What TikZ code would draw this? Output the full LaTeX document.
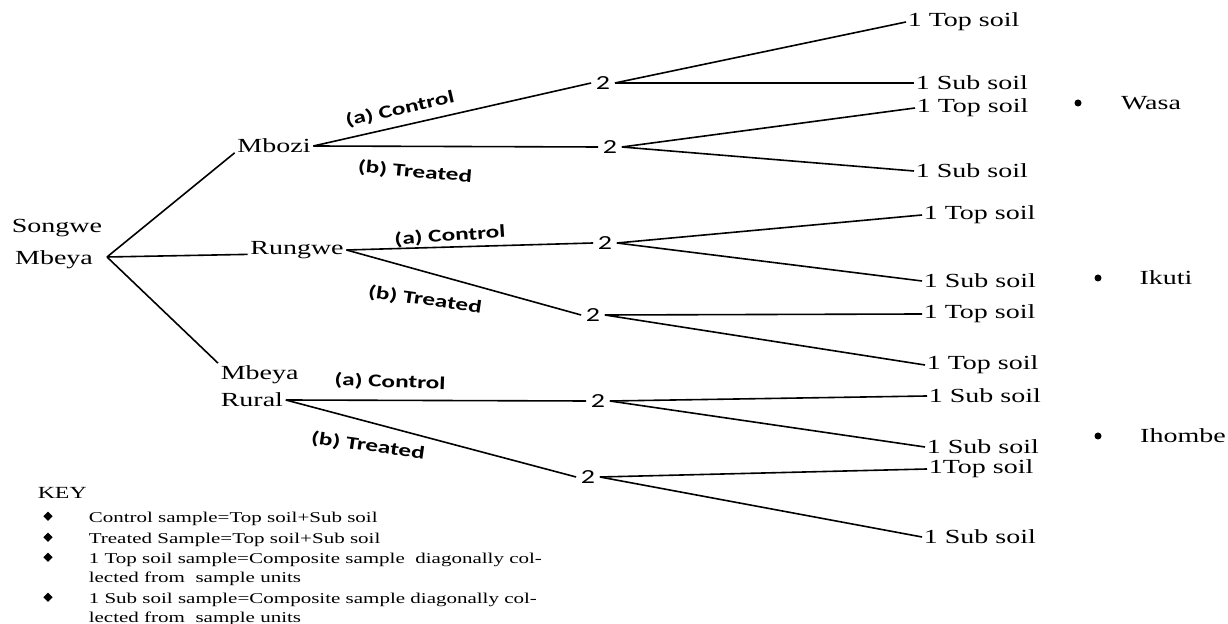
\documentclass[tikz,border=0pt]{standalone}
\usepackage{fontspec}
\setmainfont{Liberation Serif}[FakeStretch=1.4]
\newfontfamily\calibrifont{Carlito}[FakeStretch=1.4]
\usepackage{tikz}
\usetikzlibrary{shapes.geometric}

\begin{document}
\begin{tikzpicture}[x=0.5pt, y=-0.5pt, line width=0.8pt,
  place/.style={inner sep=1pt, font=\fontsize{10}{12}\selectfont},
  leaf/.style={place, anchor=west, inner sep=0.5pt},
  num/.style={inner sep=2pt, font=\calibrifont\fontsize{10}{12}\selectfont},
  arm/.style={inner sep=0pt, font=\calibrifont\bfseries\fontsize{9}{11}\selectfont},
  sitedot/.style={circle, fill, inner sep=0pt, minimum size=3.5pt},
  keytext/.style={anchor=north west, align=left, inner sep=0pt, font=\fontsize{7.5}{9.5}\selectfont},
  keymark/.style={diamond, fill, inner sep=0pt, minimum size=5pt, aspect=1.3}]
  \useasboundingbox (0,0) rectangle (1228,624);

  % one "2" split into two soil samples
  \newcommand{\sampfork}[9]{%
    \node[num] (#1) at (#2,#3) {2};
    \node[leaf] (#1u) at (#4,#5) {#6};
    \node[leaf] (#1l) at (#7,#8) {#9};
    \draw (#1.east) -- (#1u.west);
    \draw (#1.east) -- (#1l.west);}

  % region and districts
  \node[place] (songwe) at (57,228) {Songwe};
  \node[place] (mbeya) at (54,260) {Mbeya};
  \coordinate (root) at (107,257);

  \node[place] (mbozi) at (274,146) {Mbozi};
  \node[place] (rungwe) at (297,250) {Rungwe};
  \node[place, anchor=west] (ruralname) at (218,375) {Mbeya};
  \node[place, anchor=west] (rural) at (218,400) {Rural};

  \draw (root) -- (mbozi.base west);
  \draw (root) -- (rungwe.base west);
  \draw (root) -- (ruralname.north west);

  % samples
  \sampfork{mc}{603}{83}{906}{22}{1 Top soil}{914}{83}{1 Sub soil}
  \sampfork{mt}{610}{147}{915}{108}{1 Top soil}{914}{171}{1 Sub soil}
  \sampfork{rc}{605}{243}{922}{215}{1 Top soil}{922}{281}{1 Sub soil}
  \sampfork{rt}{593}{315}{922}{314}{1 Top soil}{925}{365}{1 Top soil}
  \sampfork{uc}{598}{401}{927}{396}{1 Sub soil}{925}{447}{1 Sub soil}
  \sampfork{ut}{588}{477}{927}{469}{1Top soil}{922}{537}{1 Sub soil}

  \draw (mbozi.east) -- (mc.west);
  \draw (mbozi.east) -- (mt.west);
  \draw (rungwe.east) -- (rc.west);
  \draw (rungwe.east) -- (rt.west);
  \draw (rural.east) -- (uc.west);
  \draw (rural.east) -- (ut.west);

  \node[arm, rotate=13] (mcl) at (400,109) {(a) Control};
  \node[arm, rotate=-5] (mtl) at (415,172) {(b) Treated};
  \node[arm, rotate=4] (rcl) at (450,236) {(a) Control};
  \node[arm, rotate=-8] (rtl) at (425,300) {(b) Treated};
  \node[arm, rotate=-2] (ucl) at (390,382) {(a) Control};
  \node[arm, rotate=-8] (utl) at (368,446) {(b) Treated};

  % sites
  \node[sitedot] (wasadot) at (1078,103) {};
  \node[place] (wasa) at (1151,103) {Wasa};
  \node[sitedot] (ikutidot) at (1098,278) {};
  \node[place] (ikuti) at (1166,278) {Ikuti};
  \node[sitedot] (ihombedot) at (1098,436) {};
  \node[place] (ihombe) at (1183,436) {Ihombe};

  % key
  \node[keytext, anchor=base west, font=\fontsize{8.5}{10}\selectfont] (key) at (37,499) {KEY};
  \node[keytext] (k1) at (88,511) {Control sample=Top soil+Sub soil};
  \node[keytext] (k2) at (88,532) {Treated Sample=Top soil+Sub soil};
  \node[keytext] (k3) at (88,552) {1 Top soil sample=Composite sample\ \ diagonally col-\\lected from\ \ sample units};
  \node[keytext] (k4) at (88,592) {1 Sub soil sample=Composite sample diagonally col-\\lected from\ \ sample units};
  \foreach \k in {k1,k2,k3,k4}
    \node[keymark] (\k m) at ([xshift=-20pt, yshift=-2.6pt]\k.north west) {};
\end{tikzpicture}
\end{document}
